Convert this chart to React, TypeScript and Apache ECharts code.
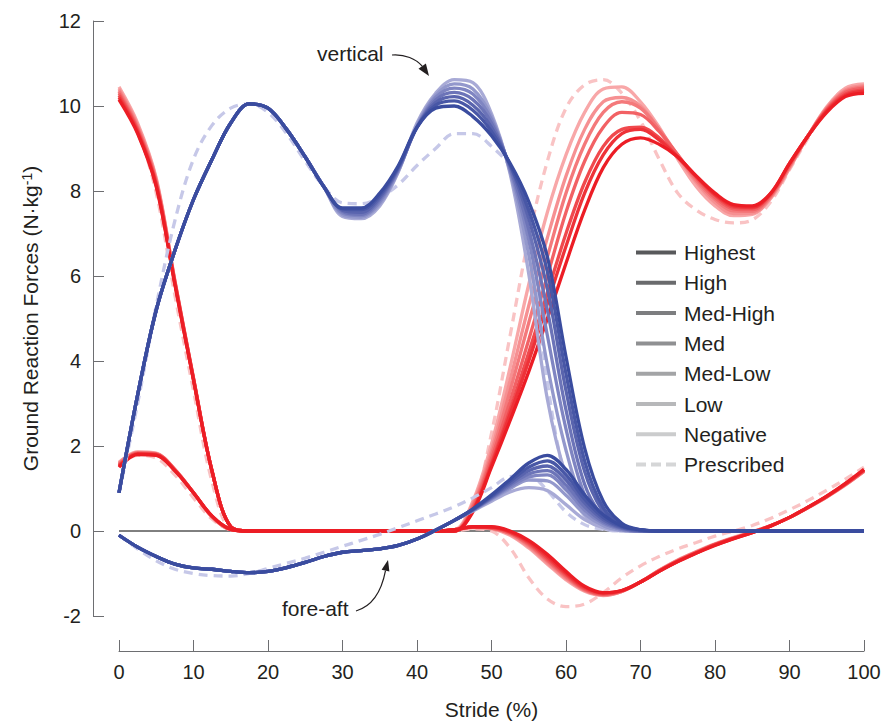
import React, { useEffect, useRef } from 'react';
import * as echarts from 'echarts';

// Stride (%) sample positions
const stride = [0, 2.5, 5, 7.5, 10, 12.5, 15, 17.5, 20, 22.5, 25, 27.5, 30, 32.5, 35, 37.5, 40, 42.5, 45, 47.5, 50, 52.5, 55, 57.5, 60, 62.5, 65, 67.5, 70, 72.5, 75, 77.5, 80, 82.5, 85, 87.5, 90, 92.5, 95, 97.5, 100];

const conditionNames = ['Highest', 'High', 'Med-High', 'Med', 'Med-Low', 'Low', 'Negative'];
const prescribedName = 'Prescribed';
const xTicks = [0, 10, 20, 30, 40, 50, 60, 70, 80, 90, 100];
const yTicks = [-2, 0, 2, 4, 6, 8, 10, 12];

// ---- Blue leg, vertical ----
const blueVertHighest = [0.9, 3.2, 5.2, 6.6, 7.8, 8.75, 9.6, 10.05, 9.95, 9.45, 8.8, 8.1, 7.6, 7.6, 7.95, 8.6, 9.5, 9.95, 10.0, 9.75, 9.3, 8.65, 7.75, 6.45, 4.1, 1.95, 0.7, 0.18, 0.03, 0, 0, 0, 0, 0, 0, 0, 0, 0, 0, 0, 0];
const blueVertHigh = [0.9, 3.2, 5.2, 6.6, 7.8, 8.75, 9.6, 10.05, 9.95, 9.45, 8.8, 8.1, 7.58, 7.56, 7.9, 8.57, 9.5, 10.02, 10.12, 9.9, 9.4, 8.62, 7.55, 6.1, 3.7, 1.65, 0.55, 0.13, 0.02, 0, 0, 0, 0, 0, 0, 0, 0, 0, 0, 0, 0];
const blueVertMedHigh = [0.9, 3.2, 5.2, 6.6, 7.8, 8.75, 9.6, 10.05, 9.95, 9.45, 8.8, 8.1, 7.55, 7.5, 7.85, 8.55, 9.5, 10.08, 10.22, 10.02, 9.5, 8.6, 7.35, 5.7, 3.3, 1.4, 0.45, 0.1, 0.01, 0, 0, 0, 0, 0, 0, 0, 0, 0, 0, 0, 0];
const blueVertMed = [0.9, 3.2, 5.2, 6.6, 7.8, 8.75, 9.6, 10.05, 9.95, 9.45, 8.8, 8.1, 7.52, 7.45, 7.8, 8.52, 9.5, 10.14, 10.32, 10.15, 9.6, 8.55, 7.1, 5.2, 2.85, 1.1, 0.33, 0.07, 0, 0, 0, 0, 0, 0, 0, 0, 0, 0, 0, 0, 0];
const blueVertMedLow = [0.9, 3.2, 5.2, 6.6, 7.8, 8.75, 9.6, 10.05, 9.95, 9.45, 8.8, 8.1, 7.48, 7.42, 7.75, 8.5, 9.52, 10.2, 10.42, 10.28, 9.68, 8.5, 6.85, 4.6, 2.4, 0.85, 0.22, 0.04, 0, 0, 0, 0, 0, 0, 0, 0, 0, 0, 0, 0, 0];
const blueVertLow = [0.9, 3.2, 5.2, 6.6, 7.8, 8.75, 9.6, 10.05, 9.95, 9.45, 8.8, 8.1, 7.44, 7.38, 7.7, 8.47, 9.55, 10.25, 10.52, 10.4, 9.75, 8.45, 6.5, 3.9, 1.9, 0.6, 0.13, 0.02, 0, 0, 0, 0, 0, 0, 0, 0, 0, 0, 0, 0, 0];
const blueVertNegative = [0.9, 3.2, 5.2, 6.6, 7.8, 8.75, 9.6, 10.05, 9.95, 9.45, 8.8, 8.1, 7.4, 7.35, 7.65, 8.45, 9.6, 10.3, 10.62, 10.55, 9.82, 8.4, 6.05, 3.1, 1.3, 0.38, 0.08, 0.01, 0, 0, 0, 0, 0, 0, 0, 0, 0, 0, 0, 0, 0];
const blueVertPrescribed = [0.9, 3.0, 5.3, 7.3, 8.75, 9.55, 9.95, 10.05, 9.85, 9.35, 8.7, 8.1, 7.72, 7.7, 7.85, 8.15, 8.6, 9.0, 9.35, 9.35, 9.05, 8.55, 7.15, 3.5, 1.2, 0.35, 0.06, 0, 0, 0, 0, 0, 0, 0, 0, 0, 0, 0, 0, 0, 0];

// ---- Blue leg, fore-aft ----
const blueForeHighest = [-0.1, -0.38, -0.6, -0.78, -0.87, -0.9, -0.95, -0.98, -0.95, -0.86, -0.74, -0.6, -0.5, -0.46, -0.42, -0.34, -0.19, 0.02, 0.25, 0.52, 0.85, 1.22, 1.6, 1.78, 1.45, 0.85, 0.38, 0.12, 0.03, 0, 0, 0, 0, 0, 0, 0, 0, 0, 0, 0, 0];
const blueForeHigh = [-0.1, -0.38, -0.6, -0.78, -0.87, -0.9, -0.95, -0.98, -0.95, -0.86, -0.74, -0.6, -0.5, -0.46, -0.42, -0.34, -0.19, 0.02, 0.25, 0.51, 0.82, 1.17, 1.5, 1.65, 1.32, 0.75, 0.32, 0.1, 0.02, 0, 0, 0, 0, 0, 0, 0, 0, 0, 0, 0, 0];
const blueForeMedHigh = [-0.1, -0.38, -0.6, -0.78, -0.87, -0.9, -0.95, -0.98, -0.95, -0.86, -0.74, -0.6, -0.5, -0.46, -0.42, -0.34, -0.19, 0.02, 0.25, 0.5, 0.8, 1.12, 1.42, 1.53, 1.2, 0.66, 0.27, 0.08, 0.01, 0, 0, 0, 0, 0, 0, 0, 0, 0, 0, 0, 0];
const blueForeMed = [-0.1, -0.38, -0.6, -0.78, -0.87, -0.9, -0.95, -0.98, -0.95, -0.86, -0.74, -0.6, -0.5, -0.46, -0.42, -0.34, -0.19, 0.02, 0.25, 0.5, 0.78, 1.08, 1.34, 1.42, 1.08, 0.57, 0.22, 0.06, 0.01, 0, 0, 0, 0, 0, 0, 0, 0, 0, 0, 0, 0];
const blueForeMedLow = [-0.1, -0.38, -0.6, -0.78, -0.87, -0.9, -0.95, -0.98, -0.95, -0.86, -0.74, -0.6, -0.5, -0.46, -0.42, -0.34, -0.19, 0.02, 0.25, 0.49, 0.76, 1.04, 1.27, 1.32, 0.97, 0.49, 0.18, 0.04, 0, 0, 0, 0, 0, 0, 0, 0, 0, 0, 0, 0, 0];
const blueForeLow = [-0.1, -0.38, -0.6, -0.78, -0.87, -0.9, -0.95, -0.98, -0.95, -0.86, -0.74, -0.6, -0.5, -0.46, -0.42, -0.34, -0.19, 0.02, 0.25, 0.48, 0.74, 1.0, 1.2, 1.18, 0.84, 0.4, 0.13, 0.03, 0, 0, 0, 0, 0, 0, 0, 0, 0, 0, 0, 0, 0];
const blueForeNegative = [-0.1, -0.38, -0.6, -0.78, -0.87, -0.9, -0.95, -0.98, -0.95, -0.86, -0.74, -0.6, -0.5, -0.46, -0.42, -0.34, -0.19, 0.02, 0.25, 0.47, 0.7, 0.92, 1.02, 0.95, 0.62, 0.27, 0.08, 0.02, 0, 0, 0, 0, 0, 0, 0, 0, 0, 0, 0, 0, 0];
const blueForePrescribed = [-0.1, -0.42, -0.7, -0.9, -1.0, -1.05, -1.06, -1.0, -0.88, -0.76, -0.64, -0.5, -0.36, -0.22, -0.08, 0.08, 0.24, 0.4, 0.57, 0.78, 1.02, 1.28, 1.3, 0.95, 0.45, 0.15, 0.04, 0, 0, 0, 0, 0, 0, 0, 0, 0, 0, 0, 0, 0, 0];

// ---- Red leg, vertical ----
const redVertHighest = [10.15, 9.35, 8.1, 5.8, 3.55, 1.4, 0.1, 0, 0, 0, 0, 0, 0, 0, 0, 0, 0, 0, 0, 0.45, 1.5, 2.6, 3.75, 5.0, 6.3, 7.55, 8.55, 9.1, 9.25, 9.1, 8.8, 8.35, 7.95, 7.68, 7.65, 7.95, 8.65, 9.3, 9.85, 10.22, 10.3];
const redVertHigh = [10.2, 9.38, 8.13, 5.82, 3.56, 1.4, 0.1, 0, 0, 0, 0, 0, 0, 0, 0, 0, 0, 0, 0, 0.48, 1.55, 2.75, 4.0, 5.35, 6.7, 7.95, 8.85, 9.35, 9.45, 9.2, 8.8, 8.35, 7.92, 7.65, 7.62, 7.95, 8.65, 9.3, 9.88, 10.25, 10.35];
const redVertMedHigh = [10.25, 9.42, 8.16, 5.84, 3.57, 1.4, 0.1, 0, 0, 0, 0, 0, 0, 0, 0, 0, 0, 0, 0, 0.5, 1.6, 2.85, 4.2, 5.6, 7.0, 8.2, 9.05, 9.45, 9.5, 9.25, 8.8, 8.33, 7.9, 7.62, 7.6, 7.93, 8.63, 9.3, 9.9, 10.28, 10.38];
const redVertMed = [10.3, 9.46, 8.2, 5.86, 3.58, 1.4, 0.1, 0, 0, 0, 0, 0, 0, 0, 0, 0, 0, 0, 0, 0.55, 1.7, 3.05, 4.5, 6.0, 7.5, 8.7, 9.5, 9.85, 9.8, 9.4, 8.85, 8.3, 7.85, 7.58, 7.56, 7.9, 8.6, 9.3, 9.92, 10.32, 10.42];
const redVertMedLow = [10.35, 9.5, 8.23, 5.87, 3.59, 1.4, 0.1, 0, 0, 0, 0, 0, 0, 0, 0, 0, 0, 0, 0, 0.6, 1.8, 3.3, 4.9, 6.45, 7.95, 9.1, 9.85, 10.1, 9.95, 9.45, 8.85, 8.25, 7.8, 7.53, 7.52, 7.88, 8.58, 9.3, 9.94, 10.35, 10.45];
const redVertLow = [10.4, 9.55, 8.27, 5.88, 3.6, 1.4, 0.1, 0, 0, 0, 0, 0, 0, 0, 0, 0, 0, 0, 0, 0.65, 1.9, 3.55, 5.3, 6.9, 8.35, 9.45, 10.1, 10.2, 10.0, 9.45, 8.8, 8.2, 7.73, 7.47, 7.48, 7.85, 8.55, 9.3, 9.96, 10.38, 10.48];
const redVertNegative = [10.45, 9.6, 8.3, 5.9, 3.6, 1.4, 0.1, 0, 0, 0, 0, 0, 0, 0, 0, 0, 0, 0, 0.02, 0.7, 2.05, 3.85, 5.8, 7.5, 8.85, 9.85, 10.4, 10.45, 10.1, 9.5, 8.75, 8.1, 7.65, 7.42, 7.45, 7.83, 8.53, 9.3, 9.98, 10.42, 10.52];
const redVertPrescribed = [10.35, 9.45, 7.95, 5.55, 3.3, 1.15, 0.05, 0, 0, 0, 0, 0, 0, 0, 0, 0, 0, 0, 0, 0.55, 2.3, 4.6, 6.9, 8.7, 9.95, 10.5, 10.62, 10.3, 9.65, 8.75, 7.95, 7.55, 7.33, 7.25, 7.32, 7.75, 8.5, 9.25, 9.95, 10.4, 10.45];

// ---- Red leg, fore-aft ----
const redForeHighest = [1.5, 1.8, 1.78, 1.42, 0.9, 0.35, 0.04, 0, 0, 0, 0, 0, 0, 0, 0, 0, 0, 0, 0.03, 0.1, 0.1, 0.0, -0.22, -0.55, -0.95, -1.3, -1.45, -1.4, -1.2, -0.95, -0.72, -0.52, -0.34, -0.18, -0.04, 0.12, 0.32, 0.56, 0.82, 1.12, 1.45];
const redForeHigh = [1.52, 1.81, 1.79, 1.42, 0.9, 0.35, 0.04, 0, 0, 0, 0, 0, 0, 0, 0, 0, 0, 0, 0.03, 0.1, 0.09, -0.02, -0.25, -0.6, -0.99, -1.32, -1.46, -1.4, -1.2, -0.95, -0.72, -0.52, -0.33, -0.18, -0.04, 0.12, 0.32, 0.56, 0.82, 1.11, 1.44];
const redForeMedHigh = [1.54, 1.82, 1.8, 1.43, 0.9, 0.34, 0.04, 0, 0, 0, 0, 0, 0, 0, 0, 0, 0, 0, 0.03, 0.09, 0.08, -0.03, -0.28, -0.64, -1.02, -1.35, -1.48, -1.41, -1.2, -0.94, -0.71, -0.51, -0.32, -0.17, -0.03, 0.12, 0.32, 0.56, 0.81, 1.1, 1.43];
const redForeMed = [1.56, 1.83, 1.81, 1.44, 0.9, 0.34, 0.04, 0, 0, 0, 0, 0, 0, 0, 0, 0, 0, 0, 0.03, 0.09, 0.07, -0.05, -0.31, -0.68, -1.06, -1.37, -1.49, -1.41, -1.2, -0.94, -0.7, -0.5, -0.32, -0.17, -0.03, 0.12, 0.32, 0.56, 0.81, 1.1, 1.42];
const redForeMedLow = [1.58, 1.84, 1.82, 1.44, 0.9, 0.34, 0.03, 0, 0, 0, 0, 0, 0, 0, 0, 0, 0, 0, 0.03, 0.09, 0.07, -0.06, -0.34, -0.71, -1.09, -1.39, -1.5, -1.42, -1.2, -0.93, -0.7, -0.5, -0.31, -0.16, -0.03, 0.13, 0.32, 0.55, 0.81, 1.09, 1.41];
const redForeLow = [1.6, 1.85, 1.82, 1.45, 0.9, 0.33, 0.03, 0, 0, 0, 0, 0, 0, 0, 0, 0, 0, 0, 0.03, 0.08, 0.06, -0.08, -0.37, -0.75, -1.12, -1.4, -1.51, -1.42, -1.2, -0.93, -0.69, -0.49, -0.31, -0.16, -0.02, 0.13, 0.32, 0.55, 0.8, 1.09, 1.4];
const redForeNegative = [1.62, 1.86, 1.83, 1.45, 0.9, 0.33, 0.03, 0, 0, 0, 0, 0, 0, 0, 0, 0, 0, 0, 0.03, 0.08, 0.05, -0.1, -0.4, -0.78, -1.15, -1.42, -1.52, -1.42, -1.2, -0.92, -0.68, -0.48, -0.3, -0.15, -0.02, 0.13, 0.32, 0.55, 0.8, 1.08, 1.4];
const redForePrescribed = [1.55, 1.78, 1.72, 1.32, 0.78, 0.28, 0.03, 0, 0, 0, 0, 0, 0, 0, 0, 0, 0, 0, 0, 0.05, 0.0, -0.4, -1.1, -1.6, -1.78, -1.72, -1.45, -1.1, -0.82, -0.6, -0.42, -0.27, -0.12, 0.0, 0.13, 0.3, 0.5, 0.72, 0.96, 1.22, 1.5];

const blueVertSets = [blueVertHighest, blueVertHigh, blueVertMedHigh, blueVertMed, blueVertMedLow, blueVertLow, blueVertNegative];
const blueForeSets = [blueForeHighest, blueForeHigh, blueForeMedHigh, blueForeMed, blueForeMedLow, blueForeLow, blueForeNegative];
const redVertSets = [redVertHighest, redVertHigh, redVertMedHigh, redVertMed, redVertMedLow, redVertLow, redVertNegative];
const redForeSets = [redForeHighest, redForeHigh, redForeMedHigh, redForeMed, redForeMedLow, redForeLow, redForeNegative];

const blueColors = ['#3a4c9f', '#4857a6', '#5964ae', '#6c74b8', '#7f85c2', '#9398cc', '#a8aad6'];
const bluePrescribedColor = '#c6c8e8';
const redColors = ['#ec1d25', '#ee3238', '#f0494d', '#f26164', '#f4797b', '#f69092', '#f8a7a8'];
const redPrescribedColor = '#f9c3c4';
const legendGrays = ['#58595b', '#6a6b6d', '#7d7e80', '#8f9092', '#a3a4a6', '#b7b8ba', '#cbcccd', '#d5d6d7'];

const FONT = '"Liberation Sans", Arial, Helvetica, sans-serif';
const TEXT = '#231f20';
const AXIS = '#6d6e71';

export default function App() {
  const ref = useRef<HTMLDivElement>(null);

  useEffect(() => {
    const chart = echarts.init(ref.current!, undefined, { renderer: 'svg' });
    const pts = (ys: number[]) => stride.map((x, i) => [x, ys[i]]);
    const lineSeries = (name: string, ys: number[], color: string, dashed: boolean, z: number) => ({
      type: 'line',
      name,
      data: pts(ys),
      symbol: 'none',
      showSymbol: false,
      smooth: 0.35,
      silent: true,
      z,
      color,
      lineStyle: { color, width: 3.3, type: dashed ? [9, 6] : 'solid', cap: 'butt' },
    });

    const series: any[] = [];
    series.push({
      type: 'line',
      name: 'zero',
      data: [[0, 0], [100, 0]],
      symbol: 'none',
      silent: true,
      z: 1,
      lineStyle: { color: '#000', width: 1 },
    });
    series.push(lineSeries('red-vert-' + prescribedName, redVertPrescribed, redPrescribedColor, true, 2));
    series.push(lineSeries('red-fore-' + prescribedName, redForePrescribed, redPrescribedColor, true, 2));
    for (let i = conditionNames.length - 1; i >= 0; i--) {
      series.push(lineSeries('red-vert-' + conditionNames[i], redVertSets[i], redColors[i], false, 3));
      series.push(lineSeries('red-fore-' + conditionNames[i], redForeSets[i], redColors[i], false, 3));
    }
    series.push(lineSeries('blue-vert-' + prescribedName, blueVertPrescribed, bluePrescribedColor, true, 4));
    series.push(lineSeries('blue-fore-' + prescribedName, blueForePrescribed, bluePrescribedColor, true, 4));
    for (let i = conditionNames.length - 1; i >= 0; i--) {
      series.push(lineSeries('blue-vert-' + conditionNames[i], blueVertSets[i], blueColors[i], false, 5));
      series.push(lineSeries('blue-fore-' + conditionNames[i], blueForeSets[i], blueColors[i], false, 5));
    }
    const legendNames = [...conditionNames, prescribedName];
    legendNames.forEach((n, i) => {
      series.push({
        type: 'line',
        name: n,
        data: [],
        symbol: 'none',
        color: legendGrays[i],
        lineStyle: { color: legendGrays[i], width: 4, type: i === 7 ? [9, 5] : 'solid' },
      });
    });

    const solidIcon = 'path://M0,0H40V4H0Z';
    const dashIcon = 'path://M0,0H10V4H0Z M15,0H25V4H15Z M30,0H40V4H30Z';

    chart.setOption({
      animation: false,
      grid: { left: 119, right: 20, top: 21, bottom: 110, containLabel: false },
      xAxis: {
        type: 'value',
        min: 0,
        max: 100,
        interval: 10,
        offset: 35,
        axisLine: { show: true, onZero: false, lineStyle: { color: AXIS, width: 1 } },
        axisTick: { show: true, inside: true, length: 11, lineStyle: { color: AXIS, width: 1 } },
        axisLabel: {
          fontSize: 20,
          fontFamily: FONT,
          color: TEXT,
          margin: 11,
          formatter: (v: number) => (xTicks.includes(v) ? String(v) : ''),
        },
        splitLine: { show: false },
        name: 'Stride (%)',
        nameLocation: 'middle',
        nameGap: 48,
        nameTextStyle: { fontSize: 21, fontFamily: FONT, color: TEXT },
      },
      yAxis: {
        type: 'value',
        min: -2,
        max: 12,
        interval: 2,
        offset: 26,
        axisLine: { show: true, onZero: false, lineStyle: { color: AXIS, width: 1 } },
        axisTick: { show: true, inside: true, length: 11, lineStyle: { color: AXIS, width: 1 } },
        axisLabel: {
          fontSize: 20,
          fontFamily: FONT,
          color: TEXT,
          margin: 12,
          formatter: (v: number) => (yTicks.includes(v) ? String(v) : ''),
        },
        splitLine: { show: false },
        name: 'Ground Reaction Forces (N·kg{sup|-1})',
        nameLocation: 'middle',
        nameGap: 52,
        nameRotate: 90,
        nameTextStyle: {
          fontSize: 21,
          fontFamily: FONT,
          color: TEXT,
          rich: {
            sup: { fontSize: 14, fontFamily: FONT, color: TEXT, verticalAlign: 'top', lineHeight: 14 },
          },
        },
      },
      legend: {
        orient: 'vertical',
        left: 636,
        top: 242,
        padding: 0,
        itemWidth: 40,
        itemHeight: 4,
        itemGap: 9.3,
        selectedMode: false,
        itemStyle: { borderWidth: 0 },
        textStyle: { fontSize: 21, fontFamily: FONT, color: TEXT, lineHeight: 20, padding: [0, 0, 0, 3] },
        data: legendNames.map((n, i) => ({
          name: n,
          icon: i === 7 ? dashIcon : solidIcon,
          itemStyle: { color: legendGrays[i], borderWidth: 0 },
        })),
      },
      graphic: [
        {
          type: 'text',
          x: 317,
          y: 53,
          style: { text: 'vertical', font: `21px ${FONT}`, fill: TEXT, align: 'left', textAlign: 'left', verticalAlign: 'middle', textVerticalAlign: 'middle' },
        },
        {
          type: 'bezierCurve',
          shape: { x1: 392, y1: 55, cpx1: 405, cpy1: 54, cpx2: 416, cpy2: 59, x2: 422.2, y2: 66.2 },
          style: { stroke: TEXT, lineWidth: 1.2, fill: 'none' },
        },
        {
          type: 'polygon',
          shape: { points: [[429, 76], [418.5, 68.8], [425.9, 63.6]] },
          style: { fill: TEXT },
        },
        {
          type: 'text',
          x: 282,
          y: 608,
          style: { text: 'fore-aft', font: `21px ${FONT}`, fill: TEXT, align: 'left', textAlign: 'left', verticalAlign: 'middle', textVerticalAlign: 'middle' },
        },
        {
          type: 'bezierCurve',
          shape: { x1: 356, y1: 611, cpx1: 370, cpy1: 607, cpx2: 381, cpy2: 594, x2: 385.5, y2: 570.7 },
          style: { stroke: TEXT, lineWidth: 1.2, fill: 'none' },
        },
        {
          type: 'polygon',
          shape: { points: [[388, 560], [389.4, 571.6], [381.6, 569.8]] },
          style: { fill: TEXT },
        },
      ],
      series,
    });

    return () => {
      chart.dispose();
    };
  }, []);

  return (
    <div
      ref={ref}
      style={{ position: 'fixed', left: 0, top: 0, width: 884, height: 726, background: '#fff' }}
    />
  );
}
